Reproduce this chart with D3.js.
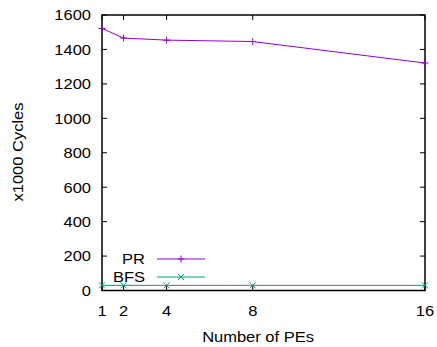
<!DOCTYPE html>
<html><head><meta charset="utf-8">
<script src="https://cdn.jsdelivr.net/npm/d3@7"></script>
<style>body{margin:0;background:#fff}svg{display:block}text{font-family:"Liberation Sans",Arial,sans-serif;fill:#000}</style>
</head><body>
<script>
const pes = [1, 2, 4, 8, 16];
const prValues = [1522, 1466, 1454, 1446, 1321];
const bfsValues = [30, 30, 30, 30, 30];
const xTicks = [1, 2, 4, 8, 16];
const yTicks = [0, 200, 400, 600, 800, 1000, 1200, 1400, 1600];
const seriesNames = ["PR", "BFS"];
const seriesColors = ["#9400d3", "#009e73"];

const W = 437, H = 347;
const m = {left: 102, top: 15, right: 425, bottom: 290.5};
const svg = d3.select("body").append("svg").attr("width", W).attr("height", H);
const x = d3.scaleLinear().domain([1, 16]).range([m.left, m.right]);
const y = d3.scaleLinear().domain([0, 1600]).range([m.bottom, m.top]);
const fs = 15, sx = 1.1;

// text helper: horizontally stretched label at (tx,ty), optional rotation
function label(tx, ty, str, anchor, rot, dy) {
  const t = svg.append("text")
    .attr("transform", `translate(${tx},${ty}) rotate(${rot || 0}) scale(${sx},1)`)
    .attr("text-anchor", anchor).attr("font-size", fs).text(str);
  if (dy) t.attr("dy", dy);
  return t;
}

const tl = 5;
const g = svg.append("g");
yTicks.forEach(t => {
  g.append("line").attr("x1", m.left).attr("x2", m.left + tl).attr("y1", y(t)).attr("y2", y(t)).attr("stroke", "#000");
  g.append("line").attr("x1", m.right).attr("x2", m.right - tl).attr("y1", y(t)).attr("y2", y(t)).attr("stroke", "#000");
  label(91, y(t), t, "end", 0, "0.36em");
});
xTicks.forEach(t => {
  g.append("line").attr("x1", x(t)).attr("x2", x(t)).attr("y1", m.bottom).attr("y2", m.bottom - tl).attr("stroke", "#000");
  g.append("line").attr("x1", x(t)).attr("x2", x(t)).attr("y1", m.top).attr("y2", m.top + tl).attr("stroke", "#000");
  label(x(t), 316, t, "middle", 0);
});

svg.append("rect").attr("x", m.left).attr("y", m.top).attr("width", m.right - m.left).attr("height", m.bottom - m.top)
  .attr("fill", "none").attr("stroke", "#000").attr("stroke-width", 1.5);

label(258, 342, "Number of PEs", "middle", 0);
label(23, 152, "x1000 Cycles", "middle", -90);

function plus(sel, cx, cy, c) {
  sel.append("path").attr("d", `M${cx-3.5},${cy}h7M${cx},${cy-3.5}v7`).attr("stroke", c).attr("fill", "none");
}
function cross(sel, cx, cy, c) {
  sel.append("path").attr("d", `M${cx-3},${cy-3}l6,6M${cx-3},${cy+3}l6,-6`).attr("stroke", c).attr("fill", "none");
}
const line = d3.line().x(d => x(d[0])).y(d => y(d[1]));
const series = [prValues, bfsValues];
const markers = [plus, cross];
series.forEach((vals, i) => {
  const data = pes.map((p, j) => [p, vals[j]]);
  const sg = svg.append("g");
  sg.append("path").attr("d", line(data)).attr("fill", "none").attr("stroke", seriesColors[i]).attr("stroke-width", 1);
  data.forEach(d => markers[i](sg, x(d[0]), y(d[1]), seriesColors[i]));
  const ly = 259 + i * 18;
  label(145, ly, seriesNames[i], "end", 0, "0.36em");
  svg.append("line").attr("x1", 157).attr("x2", 205).attr("y1", ly).attr("y2", ly).attr("stroke", seriesColors[i]);
  markers[i](svg, 181, ly, seriesColors[i]);
});
</script>
</body></html>
